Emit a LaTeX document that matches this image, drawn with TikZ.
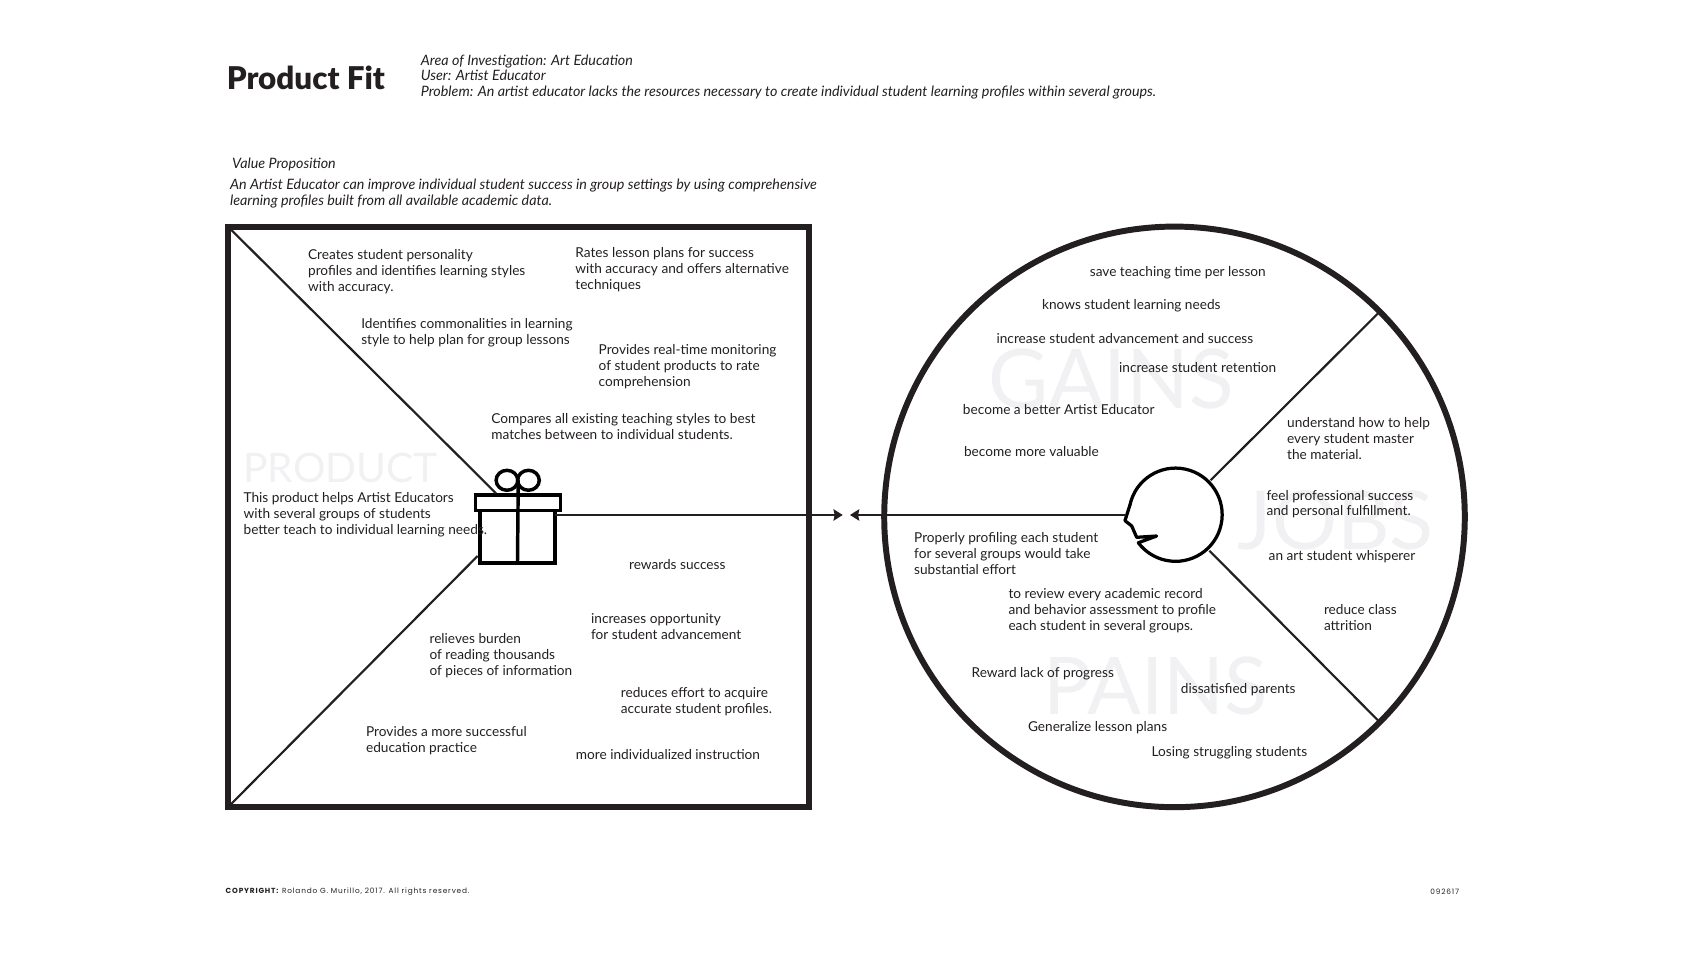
\documentclass[tikz,border=0pt]{standalone}
\usepackage{xcolor}
\usepackage{fontspec}
\setmainfont{Lato}
\newfontfamily\titlefont[UprightFont=* Black]{Lato}
\newfontfamily\footfont[LetterSpace=11]{Poppins}
\usetikzlibrary{arrows.meta, positioning, shapes.geometric}
\definecolor{cink}{HTML}{231f20}
\definecolor{cghost}{HTML}{f1f1f3}

\begin{document}
\begin{tikzpicture}[
  x=1pt, y=-1pt,
  >={Stealth[length=8.5pt, width=10.5pt, inset=1pt]},
  txt/.style={anchor=west, align=left, inner sep=0pt, text=cink,
              font=\fontsize{12.6}{14.7}\selectfont},
  note/.style={txt, font=\fontsize{13.2}{14.7}\selectfont\itshape},
  ghost/.style={inner sep=0pt, text=cghost, font=\fontsize{#1}{#1}\selectfont},
  foot/.style={inner sep=0pt, text=cink, font=\fontsize{6.8}{8}\selectfont\footfont},
  frame/.style={draw=cink, line width=5.5pt, inner sep=0pt, outer sep=0pt, minimum size=535.5pt},
  giftpart/.style={draw=black, line width=3.2pt, inner sep=0pt, outer sep=0pt},
  divider/.style={draw=cink, line width=2pt},
  arr/.style={->, draw=cink, line width=1.6pt},
  ]
\useasboundingbox (0,0) rectangle (1568,882);

% header
\node[txt, font=\fontsize{28.9}{30}\selectfont\titlefont] (title) at (209,72) {Product Fit};
\node[note] (area) at (388,71) {Area of Investigation: Art Education\\User: Artist Educator\\Problem: An artist educator lacks the resources necessary to create individual student learning profiles within several groups.};
\node[note] (vplabel) at (214,151.5) {Value Proposition};
\node[note] (vptext) at (212,178.5) {An Artist Educator can improve individual student success in group settings by using comprehensive\\learning profiles built from all available academic data.};

% ghost titles
\node[ghost=37.5] (product) at (314,432) {PRODUCT};
\node[ghost=76] (gains) at (1025,350) {GAINS};
\node[ghost=75] (jobs) at (1232,480) {JOBS};
\node[ghost=73.5] (pains) at (1066,633) {PAINS};

% square and circle
\node[frame] (valuebox) at (478,476.75) {};
\node[frame, circle] (fitcircle) at (1083.3,476.75) {};

% gift
\node[giftpart, minimum width=69.3pt, minimum height=48.7pt] (giftbody) at (477.3,495) {};
\node[giftpart, minimum width=78.4pt, minimum height=14.1pt] (giftlid) at (478,463.6) {};
\node[giftpart, ellipse, minimum width=20pt, minimum height=18.4pt] (bowl) at (467.6,443) {};
\node[giftpart, ellipse, minimum width=20pt, minimum height=18.4pt] (bowr) at (487.4,443) {};
\draw[giftpart] (giftlid.north |- bowl.center) -- (giftbody.south);

% head
\draw[draw=black, line width=3pt, line join=round] (1042.2,465.8) arc[start angle=-168, end angle=143, radius=43]
  -- (1066.8,494.4) -- (1048.4,495.6) -- (1043.8,485.1) -- (1037.6,480.2) -- cycle;

% connectors
\coordinate (giftnw) at (457.5,455);
\coordinate (giftsw) at (440.6,512.8);
\coordinate (headup) at (1116.6,443);
\coordinate (headdown) at (1115.5,508);
\coordinate (headfront) at (1039,475);
\coordinate (tipright) at (777.3,475);
\coordinate (tipleft) at (784,475);
\draw[divider] (valuebox.north west) -- (giftnw);
\draw[divider] (valuebox.south west) -- (giftsw);
\draw[divider] (headup) -- (fitcircle.45);
\draw[divider] (headdown) -- (fitcircle.-45);
\draw[arr] (giftbody.east |- tipright) -- (tipright);
\draw[arr] (headfront) -- (tipleft);

% product
\node[txt] (creates) at (284,250.5) {Creates student personality\\profiles and identifies learning styles\\with accuracy.};
\node[txt] (rates) at (530.5,248.5) {Rates lesson plans for success\\with accuracy and offers alternative\\techniques};
\node[txt] (identifies) at (333,306.5) {Identifies commonalities in learning\\style to help plan for group lessons};
\node[txt] (monitor) at (552,338) {Provides real-time monitoring\\of student products to rate\\comprehension};
\node[txt] (compares) at (453,393.5) {Compares all existing teaching styles to best\\matches between to individual students.};
\node[txt] (helps) at (224.5,474.5) {This product helps Artist Educators\\with several groups of students\\better teach to individual learning needs.};
\node[txt] (rewards) at (580,521) {rewards success};
\node[txt] (opportunity) at (545,577.5) {increases opportunity\\for student advancement};
\node[txt] (burden) at (396,604.5) {relieves burden\\of reading thousands\\of pieces of information};
\node[txt] (effort) at (572.5,647) {reduces effort to acquire\\accurate student profiles.};
\node[txt] (practice) at (337.5,683) {Provides a more successful\\education practice};
\node[txt] (instruction) at (531,696) {more individualized instruction};

% gains
\node[txt] (savetime) at (1005,251.5) {save teaching time per lesson};
\node[txt] (knows) at (961,282) {knows student learning needs};
\node[txt] (advance) at (919,312.5) {increase student advancement and success};
\node[txt] (retain) at (1032,339) {increase student retention};
\node[txt] (better) at (888,378) {become a better Artist Educator};
\node[txt] (valuable) at (889,416.5) {become more valuable};

% jobs
\node[txt] (understand) at (1187,404.5) {understand how to help\\every student master\\the material.};
\node[txt] (feel) at (1168,465) {feel professional success\\and personal fulfillment.};
\node[txt] (whisper) at (1170,513.5) {an art student whisperer};
\node[txt] (attrition) at (1221,569.5) {reduce class\\attrition};

% pains
\node[txt] (profiling) at (843,510.5) {Properly profiling each student\\for several groups would take\\substantial effort};
\node[txt] (review) at (930,563) {to review every academic record\\and behavior assessment to profile\\each student in several groups.};
\node[txt] (lack) at (896,621.5) {Reward lack of progress};
\node[txt] (parents) at (1089,636) {dissatisfied parents};
\node[txt] (generalize) at (948,671) {Generalize lesson plans};
\node[txt] (losing) at (1062,694) {Losing struggling students};

% footer
\node[foot, anchor=west] (copyright) at (208,822.5) {\textbf{COPYRIGHT:} Rolando G. Murillo, 2017. All rights reserved.};
\node[foot, anchor=east] (stamp) at (1346,822.5) {092617};
\end{tikzpicture}
\end{document}
